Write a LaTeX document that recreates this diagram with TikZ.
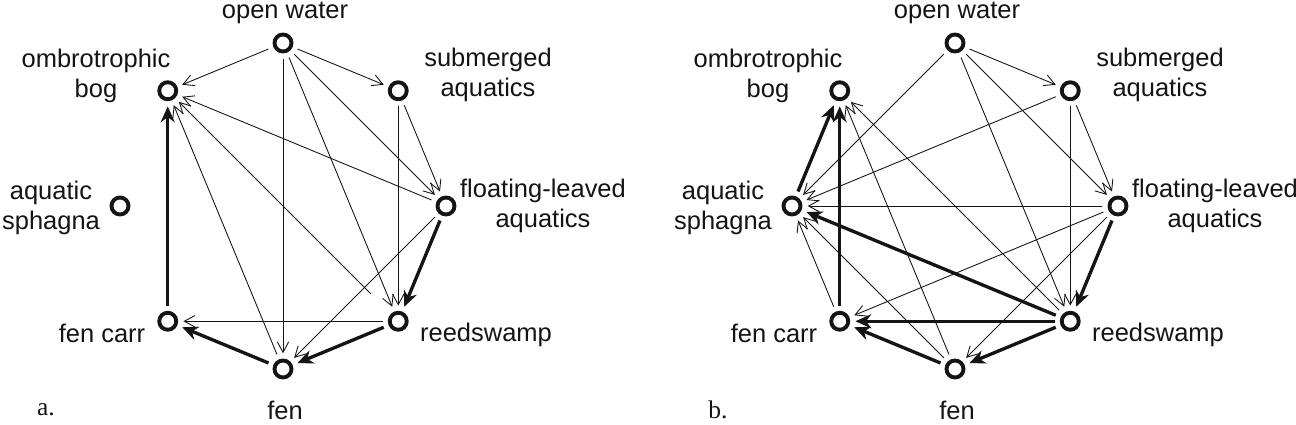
\documentclass[tikz,border=0pt]{standalone}
\usepackage{fontspec}
\setmainfont{Liberation Sans}
\newfontfamily\panelfont{Liberation Serif}
\usetikzlibrary{arrows.meta}
\definecolor{ink}{RGB}{20,20,20}

\tikzset{
  site/.style={circle, draw=ink, line width=2.2pt, minimum size=3.4mm, inner sep=0pt},
  lbl/.style={align=center, text=ink, inner sep=0pt,
              font=\fontsize{14.5}{17.3}\selectfont},
  weak/.style={draw=ink, line width=0.5pt, -{Straight Barb[length=6pt,width=6.5pt]},
               shorten >=3pt, shorten <=3pt},
  strong/.style={draw=ink, line width=1.9pt, -{Stealth[length=9pt,width=8pt,inset=3pt]},
                 shorten >=3pt, shorten <=3pt},
}

\begin{document}
\begin{tikzpicture}[x=0.2mm, y=0.2mm]
  \useasboundingbox (-283,-219) rectangle (1013,206);
  % the eight sites, same ring in both panels
  \foreach \p/\dx/\ptag in {a/0/a., b/672/b.} {
    \begin{scope}[shift={(\dx,0)}]
      \node[site] (\p ow)   at (90:163)  {};
      \node[site] (\p bog)  at (135:163) {};
      \node[site] (\p sub)  at (45:163)  {};
      \node[site] (\p sph)  at (180:163) {};
      \node[site] (\p flo)  at (0:163)   {};
      \node[site] (\p carr) at (225:163) {};
      \node[site] (\p reed) at (315:163) {};
      \node[site] (\p fen)  at (270:163) {};
      \node[lbl] (\p owt)   at (2,193)    {open water};
      \node[lbl] (\p bogt)  at (-187,130) {ombrotrophic\\bog};
      \node[lbl] (\p subt)  at (205,131)  {submerged\\aquatics};
      \node[lbl] (\p spht)  at (-232,-2)  {aquatic\\sphagna};
      \node[lbl] (\p flot)  at (260,0)    {floating-leaved\\aquatics};
      \node[lbl] (\p carrt) at (-181,-127) {fen carr};
      \node[lbl] (\p reedt) at (203,-129) {reedswamp};
      \node[lbl] (\p fent)  at (2,-204)   {fen};
      \node[lbl, font=\panelfont\fontsize{14.5}{17.3}\selectfont] (\p tag) at (-237,-204) {\ptag};
    \end{scope}
  }
  % panel a
  \foreach \s/\t in {ow/bog, ow/sub, ow/fen, ow/reed, ow/flo, sub/flo, sub/reed,
                     flo/bog, flo/fen, fen/bog, reed/carr}
    \draw[weak] (a\s) -- (a\t);
  \draw[weak, shorten <=16pt] (areed) -- (abog);
  \foreach \s/\t in {flo/reed, carr/bog, reed/fen, fen/carr}
    \draw[strong] (a\s) -- (a\t);
  % panel b
  \foreach \s/\t in {ow/sub, ow/sph, ow/flo, ow/reed, sub/sph, sub/flo, sub/reed,
                     flo/sph, flo/carr, flo/fen, reed/bog, fen/bog, fen/sph, carr/sph}
    \draw[weak] (b\s) -- (b\t);
  \foreach \s/\t in {flo/reed, sph/bog, carr/bog, reed/sph, reed/carr, fen/carr, reed/fen}
    \draw[strong] (b\s) -- (b\t);
\end{tikzpicture}
\end{document}
